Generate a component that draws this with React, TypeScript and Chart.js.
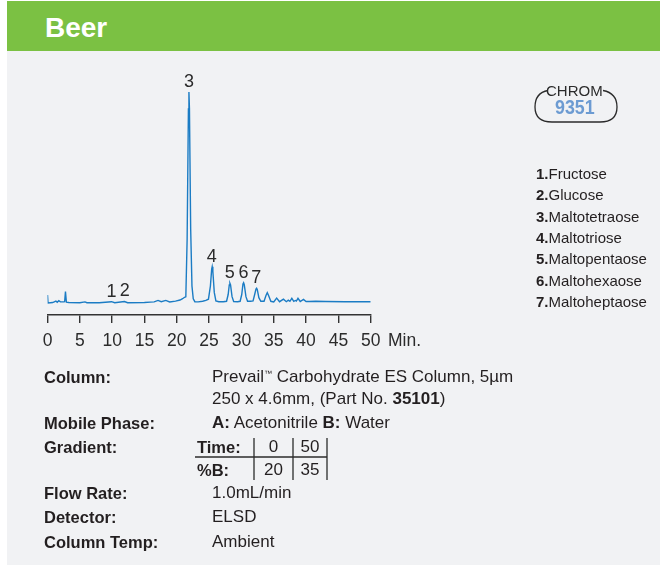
import React, { useEffect, useRef } from "react";
import { Chart, registerables } from "chart.js";

Chart.register(...registerables);

// ---- Chromatogram data (time in min, relative detector response; peak 3 = 100) ----
const traceTime = [
  0.0, 0.08, 0.8, 1.3, 1.5, 1.75, 2.0, 2.5, 2.65, 2.78, 2.92, 3.3, 5.0, 5.8, 6.1, 8.0,
  9.9, 10.4, 11.9, 12.4, 15.0, 15.9, 16.5, 17.1, 17.6, 18.3, 18.9, 19.8, 20.5, 20.9, 21.2,
  21.4, 21.6, 21.8, 21.88, 21.96, 22.15, 22.35, 22.55, 22.8, 23.3, 24.0, 24.5, 24.9,
  25.2, 25.4, 25.48, 25.58, 25.8, 26.05, 26.5, 27.2, 27.7, 27.95, 28.12, 28.22, 28.32,
  28.55, 28.8, 29.4, 29.8, 30.05, 30.24, 30.34, 30.44, 30.7, 30.95, 31.4, 31.8, 32.05,
  32.25, 32.35, 32.45, 32.7, 33.0, 33.5, 33.8, 34.0, 34.2, 34.55, 35.0, 35.45, 35.9,
  36.5, 36.95, 37.25, 37.5, 37.8, 38.1, 38.35, 38.5, 38.75, 39.1, 39.6, 40.0, 40.5,
  41.5, 43.0, 46.0, 50.0,
];
const traceSignal = [
  3.8, 0.0, 0.2, 0.9, 0.3, 1.1, 0.5, 0.5, 0.6, 5.4, 0.4, 0.2, 0.1, 0.5, 0.1, 0.1,
  0.6, 0.1, 0.7, 0.1, 0.2, 0.4, 0.5, 1.2, 0.6, 1.2, 0.5, 0.9, 1.4, 2.0, 2.7,
  2.9, 30, 92, 100, 92, 35, 8, 2.0, 0.6, 0.5, 0.8, 1.2, 1.8,
  8, 16, 17.2, 15, 5, 1.0, 0.6, 0.6, 0.8, 4, 8.5, 9.3, 8.5,
  3, 0.7, 0.6, 0.8, 4, 9, 9.6, 8.7, 3, 0.8, 0.8, 1.0, 4,
  6.6, 7.0, 6.4, 2.5, 0.8, 0.8, 3.5, 4.9, 3.5, 0.8, 0.5, 2.3, 0.6,
  1.8, 0.6, 1.3, 0.8, 2.2, 0.8, 1.2, 0.9, 2.2, 0.7, 1.7, 0.7, 0.7,
  0.8, 0.7, 0.6, 0.6,
];

// Peak annotations
const peakNumbers = ["1", "2", "3", "4", "5", "6", "7"];
const peakTimes = [9.9, 11.95, 21.88, 25.4, 28.2, 30.34, 32.3];
const peakHeights = [0.6, 0.7, 100, 17.2, 9.3, 9.6, 7.0];

// X axis
const xMin = 0;
const xMax = 50;
const xStep = 5;
const xUnit = "Min.";

// Compound legend
const compoundNumbers = ["1.", "2.", "3.", "4.", "5.", "6.", "7."];
const compoundNames = [
  "Fructose",
  "Glucose",
  "Maltotetraose",
  "Maltotriose",
  "Maltopentaose",
  "Maltohexaose",
  "Maltoheptaose",
];

// Gradient table
const gradientTime = ["0", "50"];
const gradientB = ["20", "35"];

const FONT = '"Liberation Sans", Arial, Helvetica, sans-serif';
const TEXT = "#231f20";

const peakLabelPlugin = {
  id: "peakLabels",
  afterDatasetsDraw(chart: any) {
    const { ctx, scales } = chart;
    ctx.save();
    ctx.font = `18px ${FONT}`;
    ctx.fillStyle = "#2b2b2b";
    ctx.textAlign = "center";
    ctx.textBaseline = "alphabetic";
    peakNumbers.forEach((n, i) => {
      const x = scales.x.getPixelForValue(peakTimes[i]);
      const y = scales.y.getPixelForValue(peakHeights[i]);
      ctx.fillText(n, x, y - 5);
    });
    ctx.restore();
  },
};

function Chromatogram() {
  const ref = useRef<HTMLCanvasElement | null>(null);
  useEffect(() => {
    if (!ref.current) return;
    const chart = new Chart(ref.current, {
      type: "line",
      data: {
        datasets: [
          {
            data: traceTime.map((t, i) => ({ x: t, y: traceSignal[i] })),
            borderColor: "#1b7cc4",
            borderWidth: 1.4,
            pointRadius: 0,
            tension: 0,
            fill: false,
          },
        ],
      },
      options: {
        animation: false,
        responsive: false,
        devicePixelRatio: 1,
        layout: { padding: { left: 47.5, right: 49.3, top: 10, bottom: 0 } },
        plugins: { legend: { display: false }, tooltip: { enabled: false } },
        scales: {
          x: {
            type: "linear",
            min: xMin,
            max: xMax,
            ticks: {
              stepSize: xStep,
              color: "#2b2b2b",
              font: { family: FONT, size: 17.5 },
              padding: 8,
              maxRotation: 0,
            },
            grid: {
              drawOnChartArea: false,
              drawTicks: true,
              tickLength: 8,
              color: "#333",
              lineWidth: 1.4,
            },
            border: { display: true, color: "#333", width: 1.4 },
            afterFit: (s: any) => {
              s.height = 45;
            },
          },
          y: { display: false, min: -5.7, max: 110.4 },
        },
      },
      plugins: [peakLabelPlugin],
    });
    return () => chart.destroy();
  }, []);
  return (
    <canvas
      ref={ref}
      width={420}
      height={300}
      style={{ position: "absolute", left: 0, top: 60, width: 420, height: 300 }}
    />
  );
}

const abs = (left: number, centerY: number, lh: number, extra: any = {}) => ({
  position: "absolute" as const,
  left,
  top: centerY - lh / 2,
  lineHeight: `${lh}px`,
  whiteSpace: "nowrap" as const,
  ...extra,
});

export default function App() {
  const labelStyle = { fontWeight: 700, fontSize: 16.5, color: TEXT, fontFamily: FONT };
  const valueStyle = { fontSize: 17, color: TEXT, fontFamily: FONT };
  const rows: [string, number][] = [
    ["Column:", 377],
    ["Mobile Phase:", 423],
    ["Gradient:", 447],
    ["Flow Rate:", 493],
    ["Detector:", 517],
    ["Column Temp:", 542],
  ];
  return (
    <div
      style={{
        position: "absolute",
        left: 0,
        top: 0,
        width: 660,
        height: 565,
        background: "#ffffff",
        overflow: "hidden",
        fontFamily: FONT,
      }}
    >
      <div style={{ position: "absolute", left: 7, top: 1, width: 653, height: 564, background: "#f1f2f4" }} />
      <div style={{ position: "absolute", left: 7, top: 1, width: 653, height: 50, background: "#7bc143" }} />
      <div style={abs(45, 28.3, 30, { color: "#fff", fontWeight: 700, fontSize: 28 })}>Beer</div>

      <Chromatogram />
      <div style={abs(388, 340, 20, { fontSize: 17.5, color: "#2b2b2b" })}>{xUnit}</div>

      {/* CHROM badge */}
      <svg
        width={660}
        height={565}
        style={{ position: "absolute", left: 0, top: 0, pointerEvents: "none" }}
      >
        <path
          d="M 548 90.5 C 540 92 535 97 535 107 C 535 117 541 122 552 122 L 600 122 C 611 122 617 117 617 107 C 617 97 611 92 603 90.5"
          fill="none"
          stroke="#2b2b2b"
          strokeWidth={1.3}
        />
        <line x1={195} y1={457} x2={327} y2={457} stroke="#2b2b2b" strokeWidth={1.3} />
        <line x1={254} y1={438} x2={254} y2={480} stroke="#2b2b2b" strokeWidth={1.3} />
        <line x1={293} y1={438} x2={293} y2={480} stroke="#2b2b2b" strokeWidth={1.3} />
        <line x1={327} y1={438} x2={327} y2={480} stroke="#2b2b2b" strokeWidth={1.3} />
      </svg>
      <div style={abs(546, 91, 16, { fontSize: 15, color: "#2b2b2b" })}>CHROM</div>
      <div
        style={abs(555, 107, 22, {
          fontSize: 21,
          fontWeight: 700,
          color: "#6c9bd2",
          transform: "scaleX(0.85)",
          transformOrigin: "left center",
        })}
      >
        9351
      </div>

      {/* Compound list */}
      {compoundNames.map((name, i) => (
        <div key={name} style={abs(536, 174 + i * 21.33, 18, { fontSize: 15, color: TEXT })}>
          <b>{compoundNumbers[i]}</b>
          {name}
        </div>
      ))}

      {/* Method conditions */}
      {rows.map(([l, y]) => (
        <div key={l} style={abs(44, y, 20, labelStyle)}>
          {l}
        </div>
      ))}
      <div style={abs(212, 377, 20, valueStyle)}>
        Prevail<sup style={{ fontSize: 8, verticalAlign: "6px", lineHeight: 0 }}>™</sup> Carbohydrate ES Column, 5µm
      </div>
      <div style={abs(212, 399, 20, valueStyle)}>
        250 x 4.6mm, (Part No. <b>35101</b>)
      </div>
      <div style={abs(212, 423, 20, valueStyle)}>
        <b>A:</b> Acetonitrile <b>B:</b> Water
      </div>
      <div style={abs(197, 447, 20, labelStyle)}>Time:</div>
      <div style={abs(197, 470, 20, labelStyle)}>%B:</div>
      {gradientTime.map((t, i) => (
        <div
          key={"t" + i}
          style={abs(i === 0 ? 254 : 293, 447, 20, { ...valueStyle, width: i === 0 ? 39 : 34, textAlign: "center" })}
        >
          {t}
        </div>
      ))}
      {gradientB.map((b, i) => (
        <div
          key={"b" + i}
          style={abs(i === 0 ? 254 : 293, 470, 20, { ...valueStyle, width: i === 0 ? 39 : 34, textAlign: "center" })}
        >
          {b}
        </div>
      ))}
      <div style={abs(212, 493, 20, valueStyle)}>1.0mL/min</div>
      <div style={abs(212, 517, 20, valueStyle)}>ELSD</div>
      <div style={abs(212, 542, 20, valueStyle)}>Ambient</div>
    </div>
  );
}
